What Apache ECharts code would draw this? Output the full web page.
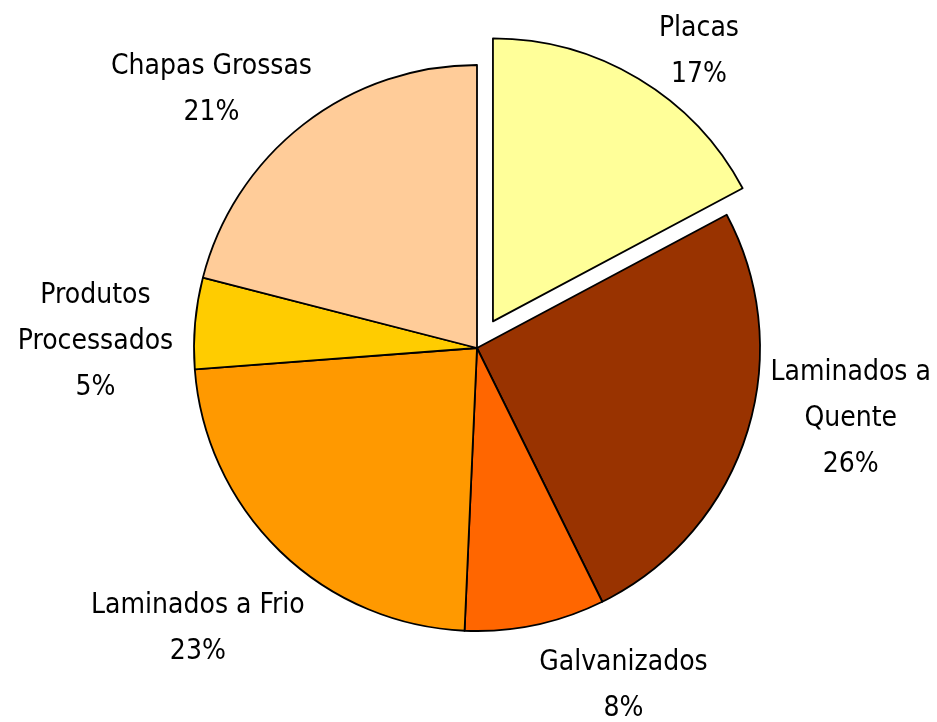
<!DOCTYPE html>
<html><head><meta charset="utf-8">
<script src="https://cdn.jsdelivr.net/npm/echarts@6/dist/echarts.min.js"></script>
<style>html,body{margin:0;padding:0;background:#fff}#c{width:937px;height:722px}</style>
</head><body><div id="c"></div>
<script>
const categories = ['Placas', 'Laminados a\nQuente', 'Galvanizados', 'Laminados a Frio', 'Produtos\nProcessados', 'Chapas Grossas'];
const values = [17.2, 25.5, 8.0, 23.1, 5.2, 21.0];
const colors = ['#FFFF99', '#993300', '#FF6600', '#FF9900', '#FFCC00', '#FFCC99'];
const exploded = [true, false, false, false, false, false];
// label nudges (style only), px
const labelNudge = [[10, 57], [11, -46], [68, -35], [-14, 7], [-2, 27], [-32, 43]];

const FONT = '"DejaVu Sans Condensed", "DejaVu Sans", sans-serif';
const center = [477, 348];

const chart = echarts.init(document.getElementById('c'), null, {renderer: 'canvas'});
const mainData = categories.map((n, i) => ({
  name: n, value: values[i], selected: exploded[i],
  itemStyle: {color: colors[i]}
}));
const labelData = categories.map((n, i) => ({
  name: n, value: values[i], selected: exploded[i]
}));
chart.setOption({
  animation: false,
  series: [
    {
      type: 'pie', z: 1, silent: true,
      center: center, radius: [0, 756],
      startAngle: 90, clockwise: true,
      selectedMode: 'multiple', selectedOffset: 31,
      itemStyle: {color: 'rgba(0,0,0,0)', borderWidth: 0},
      label: {
        show: true, position: 'inside',
        formatter: p => p.name + '\n' + Math.round(p.percent) + '%',
        fontFamily: FONT, fontSize: 28, lineHeight: 46, color: '#000', align: 'center'
      },
      labelLine: {show: false},
      labelLayout: p => ({dx: labelNudge[p.dataIndex][0], dy: labelNudge[p.dataIndex][1]}),
      emphasis: {disabled: true},
      select: {itemStyle: {color: 'rgba(0,0,0,0)', borderWidth: 0}},
      data: labelData
    },
    {
      type: 'pie', z: 2, silent: true,
      center: center, radius: [0, 283],
      startAngle: 90, clockwise: true,
      selectedMode: 'multiple', selectedOffset: 31,
      itemStyle: {borderColor: '#000', borderWidth: 1.8},
      label: {show: false}, labelLine: {show: false},
      emphasis: {disabled: true},
      select: {itemStyle: {borderColor: '#000', borderWidth: 1.8}},
      data: mainData
    }
  ]
});
</script></body></html>
